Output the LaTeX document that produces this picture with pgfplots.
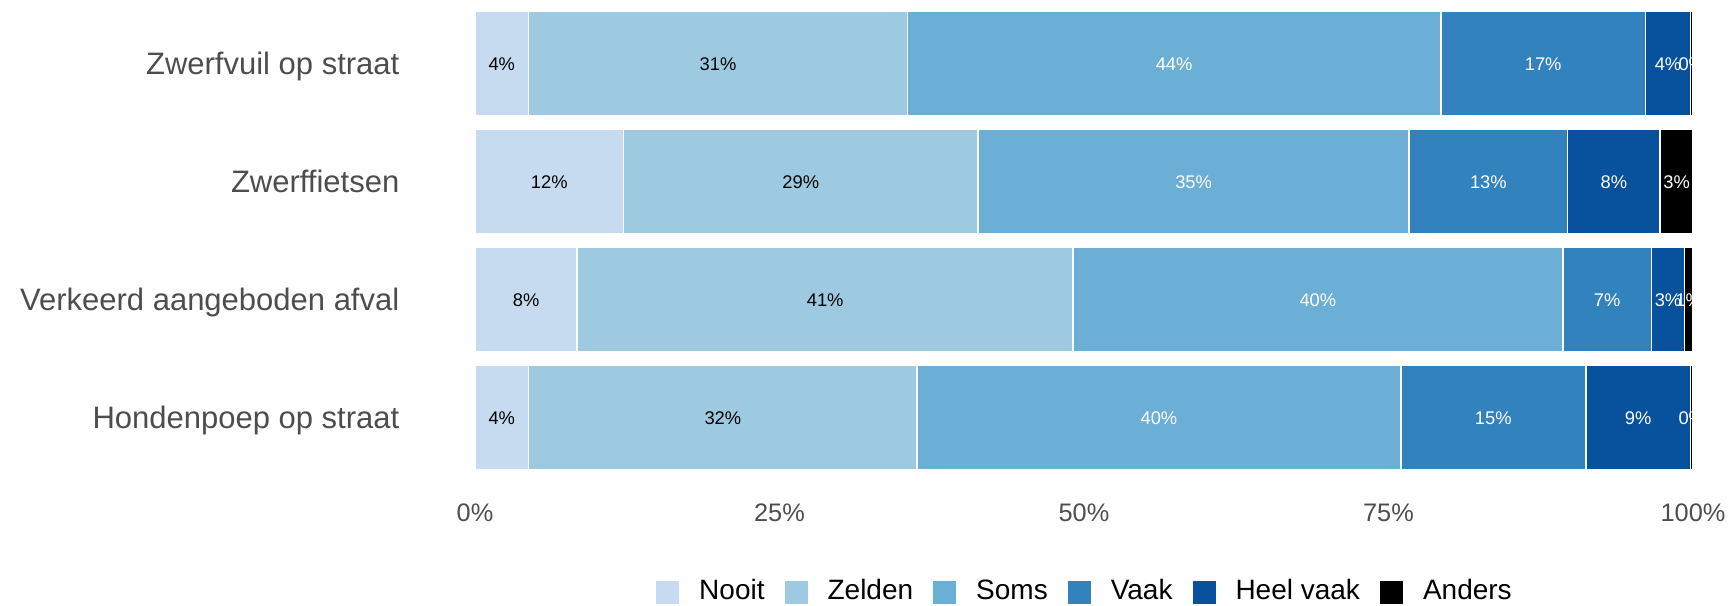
\documentclass[border=0pt]{standalone}
\usepackage{fontspec}
\setmainfont{Liberation Sans}
\usepackage{pgfplots}
\usepackage{pgfplotstable}
\pgfplotsset{compat=1.18}
\definecolor{c1}{HTML}{C6DBEF}
\definecolor{c2}{HTML}{9ECAE1}
\definecolor{c3}{HTML}{6BAED6}
\definecolor{c4}{HTML}{3182BD}
\definecolor{c5}{HTML}{08519C}
\definecolor{c6}{HTML}{000000}
\definecolor{axgray}{HTML}{4D4D4D}

\pgfplotstableread{
y Nooit Zelden Soms Vaak Heel Anders
0 4.4 31.1 43.8 16.8 3.7 0.2
1 12.2 29.1 35.4 13.0 7.6 2.7
2 8.4 40.7 40.2 7.3 2.7 0.7
3 4.4 31.9 39.7 15.2 8.6 0.2
}\data

\pgfplotsset{
  base/.style={
    scale only axis, width=365.4pt, height=141.6pt,
    xmin=0, xmax=100, ymin=-0.5, ymax=3.5, y dir=reverse, clip=false,
  },
  sq/.style={legend image code/.code={\path[##1,draw=none] (0pt,-3.45pt) rectangle (6.9pt,3.45pt);}},
  lbl/.style={draw=none, mark=none, point meta=explicit,
    nodes near coords={\pgfmathprintnumber[fixed,precision=0,assume math mode=true]{\pgfplotspointmeta}\%},
    every node near coord/.style={anchor=base, yshift=-1.97pt, inner sep=0pt,
      font=\fontsize{5.5}{6}\selectfont, text=#1}},
}

\begin{document}
\begin{tikzpicture}
\begin{axis}[base, name=ax, xbar stacked, bar width=0.89,
  xtick={0,25,50,75,100}, xticklabels={0\%,25\%,50\%,75\%,100\%},
  ytick={0,1,2,3},
  yticklabels={Zwerfvuil op straat,Zwerffietsen,Verkeerd aangeboden afval,Hondenpoep op straat},
  axis line style={draw=none}, major tick length=0pt,
  xticklabel style={font=\fontsize{7.6}{9}\selectfont, text=axgray, inner sep=0pt, anchor=north, yshift=-8pt},
  yticklabel style={font=\fontsize{9.3}{11}\selectfont, text=axgray, inner sep=0pt, anchor=base east, xshift=-22.5pt, yshift=-3.3pt},
  legend columns=6,
  legend style={draw=none, fill=none, at={(0.5,0)}, anchor=center, yshift=-34.65pt,
    font=\fontsize{8.4}{10}\selectfont,
    /tikz/every odd column/.append style={column sep=6.0pt},
    /tikz/every even column/.append style={column sep=6pt},
    nodes={inner sep=0pt}},
]
\addplot[fill=c1, draw=white, line width=0.5pt, sq] table[x=Nooit, y=y]{\data};
\addplot[fill=c2, draw=white, line width=0.5pt, sq] table[x=Zelden, y=y]{\data};
\addplot[fill=c3, draw=white, line width=0.5pt, sq] table[x=Soms, y=y]{\data};
\addplot[fill=c4, draw=white, line width=0.5pt, sq] table[x=Vaak, y=y]{\data};
\addplot[fill=c5, draw=white, line width=0.5pt, sq] table[x=Heel, y=y]{\data};
\addplot[fill=c6, draw=white, line width=0.5pt, sq] table[x=Anders, y=y]{\data};
\legend{Nooit,Zelden,Soms,Vaak,Heel vaak,Anders}
\end{axis}
\begin{axis}[base, hide axis]
\addplot[lbl=black] table[x expr=\thisrow{Nooit}/2, y=y, meta=Nooit]{\data};
\addplot[lbl=black] table[x expr=\thisrow{Nooit}+\thisrow{Zelden}/2, y=y, meta=Zelden]{\data};
\addplot[lbl=white] table[x expr=\thisrow{Nooit}+\thisrow{Zelden}+\thisrow{Soms}/2, y=y, meta=Soms]{\data};
\addplot[lbl=white] table[x expr=\thisrow{Nooit}+\thisrow{Zelden}+\thisrow{Soms}+\thisrow{Vaak}/2, y=y, meta=Vaak]{\data};
\addplot[lbl=white] table[x expr=\thisrow{Nooit}+\thisrow{Zelden}+\thisrow{Soms}+\thisrow{Vaak}+\thisrow{Heel}/2, y=y, meta=Heel]{\data};
\addplot[lbl=white] table[x expr=\thisrow{Nooit}+\thisrow{Zelden}+\thisrow{Soms}+\thisrow{Vaak}+\thisrow{Heel}+\thisrow{Anders}/2, y=y, meta=Anders]{\data};
\end{axis}
\pgfresetboundingbox
\path[use as bounding box] ([shift={(-142.5pt,-38.85pt)}]ax.south west) rectangle ([shift={(11.4pt,1.35pt)}]ax.north east);
\end{tikzpicture}
\end{document}
